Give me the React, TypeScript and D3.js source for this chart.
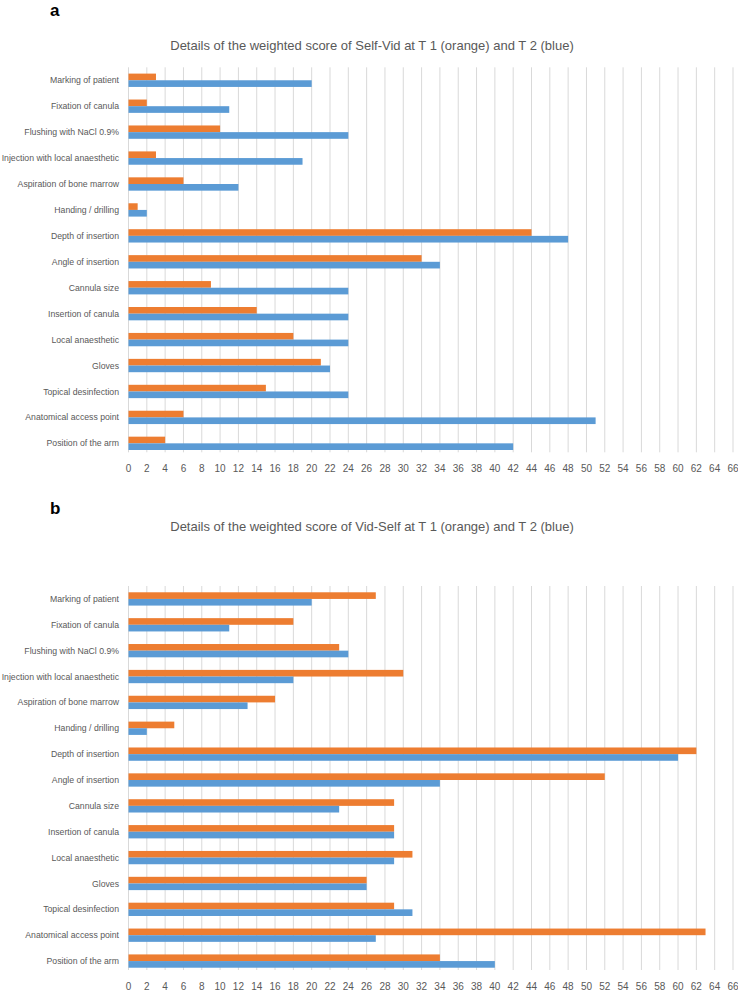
import React from 'react';
import * as d3 from 'd3';

// categories listed top to bottom as they appear in the figure
const categories = [
  'Marking of patient',
  'Fixation of canula',
  'Flushing with NaCl 0.9%',
  'Injection with local anaesthetic',
  'Aspiration of bone marrow',
  'Handing / drilling',
  'Depth of insertion',
  'Angle of insertion',
  'Cannula size',
  'Insertion of canula',
  'Local anaesthetic',
  'Gloves',
  'Topical desinfection',
  'Anatomical access point',
  'Position of the arm',
];

// panel a: Self-Vid
const selfVidT1 = [3, 2, 10, 3, 6, 1, 44, 32, 9, 14, 18, 21, 15, 6, 4];
const selfVidT2 = [20, 11, 24, 19, 12, 2, 48, 34, 24, 24, 24, 22, 24, 51, 42];

// panel b: Vid-Self
const vidSelfT1 = [27, 18, 23, 30, 16, 5, 62, 52, 29, 29, 31, 26, 29, 63, 34];
const vidSelfT2 = [20, 11, 24, 18, 13, 2, 60, 34, 23, 29, 29, 26, 31, 27, 40];

const xTicks = d3.range(0, 67, 2);
const series = ['T1', 'T2'];
const colors: Record<string, string> = { T1: '#ED7D31', T2: '#5B9BD5' };

const FONT = "'Liberation Sans', Arial, sans-serif";
const TEXT = '#595959';
const GRID = '#d9d9d9';

type PanelProps = {
  letter: string;
  letterY: number;
  title: string;
  titleY: number;
  top: number;
  bottom: number;
  t1: number[];
  t2: number[];
};

const Panel = ({ letter, letterY, title, titleY, top, bottom, t1, t2 }: PanelProps) => {
  const x = d3.scaleLinear().domain([0, 66]).range([128.5, 733]);
  const y = d3.scaleBand().domain(categories).range([top, bottom]).paddingInner(0).paddingOuter(0);
  const bw = y.bandwidth();
  const inner = d3.scaleBand().domain(series).range([bw * 0.243, bw * 0.757]);

  const rows = categories.map((c, i) => ({ c, T1: t1[i], T2: t2[i] }));

  return (
    <g>
      <text x={50} y={letterY} fontFamily={FONT} fontWeight="bold" fontSize={17} fill="#000">
        {letter}
      </text>
      <text x={372} y={titleY} textAnchor="middle" fontFamily={FONT} fontSize={13} fill={TEXT}>
        {title}
      </text>
      {xTicks.map((t) => (
        <line key={t} x1={x(t)} x2={x(t)} y1={top} y2={bottom - 4} stroke={GRID} strokeWidth={1} />
      ))}
      {rows.map((r) => (
        <g key={r.c} transform={`translate(0,${y(r.c)})`}>
          {series.map((s) => (
            <rect
              key={s}
              x={x(0)}
              y={inner(s)}
              width={x((r as any)[s]) - x(0)}
              height={inner.bandwidth()}
              fill={colors[s]}
            />
          ))}
          <text x={119} y={bw / 2} dy="0.35em" textAnchor="end" fontFamily={FONT} fontSize={8.7} fill={TEXT}>
            {r.c}
          </text>
        </g>
      ))}
      {xTicks.map((t) => (
        <text key={t} x={x(t)} y={bottom + 12} dy="0.35em" textAnchor="middle" fontFamily={FONT} fontSize={10} fill={TEXT}>
          {t}
        </text>
      ))}
    </g>
  );
};

export default function App() {
  return (
    <svg width={738} height={992} style={{ position: 'absolute', left: 0, top: 0, background: '#fff' }}>
      <rect width={738} height={992} fill="#fff" />
      <Panel
        letter="a"
        letterY={16}
        title="Details of the weighted score of Self-Vid at T 1 (orange) and T 2 (blue)"
        titleY={50}
        top={67.3}
        bottom={456.3}
        t1={selfVidT1}
        t2={selfVidT2}
      />
      <Panel
        letter="b"
        letterY={514}
        title="Details of the weighted score of Vid-Self at T 1 (orange) and T 2 (blue)"
        titleY={531}
        top={586}
        bottom={974}
        t1={vidSelfT1}
        t2={vidSelfT2}
      />
    </svg>
  );
}
